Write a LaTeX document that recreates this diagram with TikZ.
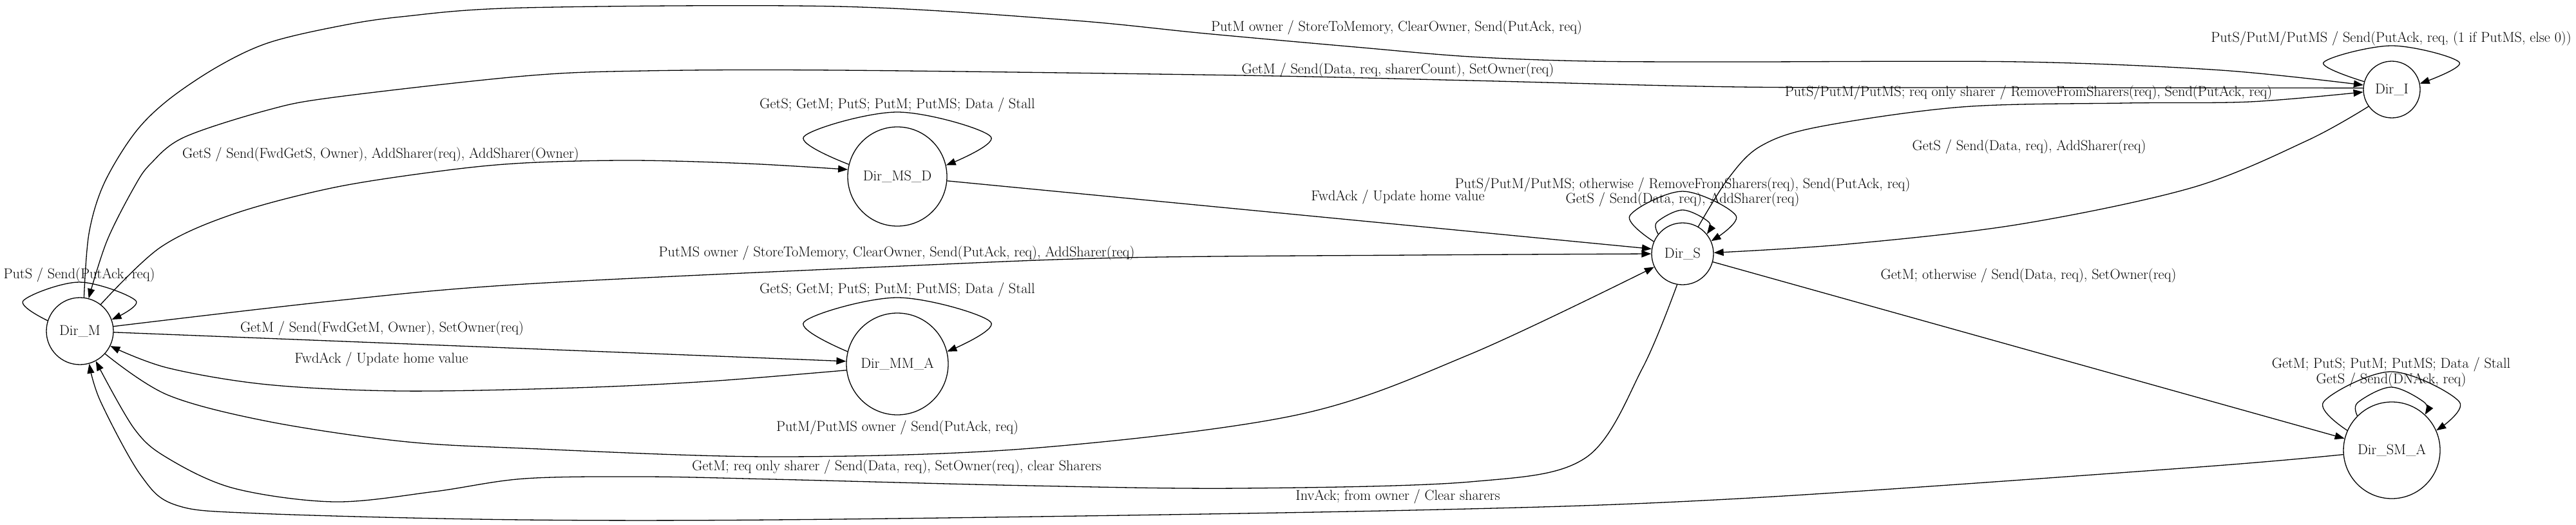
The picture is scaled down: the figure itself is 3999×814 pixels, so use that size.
\documentclass[tikz,border=0pt]{standalone}
\usetikzlibrary{arrows.meta}
\begin{document}
\begin{tikzpicture}[x=1pt,y=-1pt,
  st/.style={circle,draw,line width=1.3pt,inner sep=0pt,font=\fontsize{22.3}{26}\selectfont},
  lbl/.style={inner sep=0pt,font=\fontsize{22.3}{26}\selectfont},
  conn/.style={line width=1.3pt,-{Triangle[length=15pt,width=11pt]}},
  sm/.style={smooth,tension=0.55}]
\useasboundingbox (0,0) rectangle (3999,814);
% states
\node[st,minimum size=104pt] (M) at (124,514) {Dir\_M};
\node[st,minimum size=154pt] (MSD) at (1393,274) {Dir\_MS\_D};
\node[st,minimum size=158pt] (MMA) at (1393,565) {Dir\_MM\_A};
\node[st,minimum size=96pt] (S) at (2612,394) {Dir\_S};
\node[st,minimum size=88pt] (I) at (3713,139) {Dir\_I};
\node[st,minimum size=150pt] (SMA) at (3713,699) {Dir\_SM\_A};
% self loops
\draw[conn] plot[sm] coordinates {(M.162) (36,467) (123,438) (211,467) (M.20)};
\node[lbl] (lM) at (123,427) {PutS / Send(PutAck, req)};
\draw[conn] plot[sm] coordinates {(MSD.166) (1248,212) (1393,174) (1538,212) (MSD.13)};
\node[lbl] (lMSD) at (1393,163) {GetS; GetM; PutS; PutM; PutMS; Data / Stall};
\draw[conn] plot[sm] coordinates {(MMA.166) (1248,500) (1393,462) (1538,500) (MMA.14)};
\node[lbl] (lMMA) at (1393,450) {GetS; GetM; PutS; PutM; PutMS; Data / Stall};
\draw[conn] plot[sm] coordinates {(S.157) (2530,335) (2612,297) (2695,335) (S.24)};
\node[lbl] (lS1) at (2612,287) {PutS/PutM/PutMS; otherwise / RemoveFromSharers(req), Send(PutAck, req)};
\draw[conn] plot[sm] coordinates {(S.141) (2572,345) (2612,326) (2653,345) (S.39)};
\node[lbl] (lS2) at (2612,310) {GetS / Send(Data, req), AddSharer(req)};
\draw[conn] plot[sm] coordinates {(I.164) (3607,97) (3713,71) (3818,97) (I.12)};
\node[lbl] (lI) at (3712,60) {PutS/PutM/PutMS / Send(PutAck, req, (1 if PutMS, else 0))};
\draw[conn] plot[sm] coordinates {(SMA.156) (3607,624) (3712,577) (3818,624) (SMA.24)};
\node[lbl] (lSMA1) at (3712,566) {GetM; PutS; PutM; PutMS; Data / Stall};
\draw[conn] plot[sm] coordinates {(SMA.135) (3660,625) (3712,601) (3764,625) (SMA.47)};
\node[lbl] (lSMA2) at (3712,590) {GetS / Send(DNAck, req)};
% Dir_M -> Dir_I
\draw[conn] plot[sm] coordinates {(M.83) (138,363) (161,286) (208,208) (260,156) (337,104) (415,67) (519,42) (623,26) (814,12) (1300,10) (1657,31) (1871,52) (2104,73) (2282,88) (2468,95) (2700,96) (3136,96) (3448,109) (I.171)};
\node[lbl] (e1) at (2168,43) {PutM owner / StoreToMemory, ClearOwner, Send(PutAck, req)};
% Dir_I -> Dir_M
\draw[conn] plot[sm] coordinates {(I.177) (3136,136) (2700,135) (2282,125) (1925,117) (1300,109) (1000,110) (814,118) (519,151) (415,171) (286,213) (234,254) (208,291) (166,374) (M.75)};
\node[lbl] (e2) at (2170,109) {GetM / Send(Data, req, sharerCount), SetOwner(req)};
% Dir_M -> Dir_MS_D
\draw[conn] plot[sm] coordinates {(M.52) (249,384) (363,332) (519,291) (688,265) (814,253) (982,249) (1161,254) (MSD.172)};
\node[lbl] (e3) at (591,240) {GetS / Send(FwdGetS, Owner), AddSharer(req), AddSharer(Owner)};
% Dir_MS_D -> Dir_S
\draw[conn] (MSD.-5) -- (S.171);
\node[lbl] (e4) at (2170,306) {FwdAck / Update home value};
% Dir_M -> Dir_S (PutMS owner)
\draw[conn] plot[sm] coordinates {(M.8) (519,467) (814,441) (1400,413) (1746,400) (2193,396) (S.180)};
\node[lbl] (e5) at (1392,393) {PutMS owner / StoreToMemory, ClearOwner, Send(PutAck, req), AddSharer(req)};
% Dir_M -> Dir_MM_A
\draw[conn] (M.-2) -- (MMA.177);
\node[lbl] (e6) at (593,510) {GetM / Send(FwdGetM, Owner), SetOwner(req)};
% Dir_MM_A -> Dir_M
\draw[conn] plot[sm] coordinates {(MMA.187) (1100,592) (893,602) (623,607) (415,597) (260,571) (M.-26)};
\node[lbl] (e7) at (592,558) {FwdAck / Update home value};
% Dir_M -> Dir_S (PutM/PutMS owner)
\draw[conn] plot[sm] coordinates {(M.-42) (260,613) (415,654) (623,685) (814,696) (1200,709) (1600,696) (2014,644) (2282,550) (S.205)};
\node[lbl] (e8) at (1393,664) {PutM/PutMS owner / Send(PutAck, req)};
% Dir_S -> Dir_M (GetM req only sharer)
\draw[conn] plot[sm] coordinates {(S.260) (2550,571) (2461,711) (2282,748) (1925,758) (1600,754) (1200,744) (1000,740) (814,743) (675,763) (519,779) (363,758) (260,711) (208,665) (M.-62)};
\node[lbl] (e9) at (1392,725) {GetM; req only sharer / Send(Data, req), SetOwner(req), clear Sharers};
% Dir_SM_A -> Dir_M
\draw[conn] plot[sm] coordinates {(SMA.185) (3400,726) (2700,774) (2193,792) (1300,806) (814,807) (400,797) (273,784) (218,737) (156,623) (M.-74)};
\node[lbl] (e10) at (2170,771) {InvAck; from owner / Clear sharers};
% Dir_I -> Dir_S
\draw[conn] plot[sm] coordinates {(I.216) (3582,218) (3404,291) (3136,348) (2868,379) (S.2)};
\node[lbl] (e11) at (3150,228) {GetS / Send(Data, req), AddSharer(req)};
% Dir_S -> Dir_I
\draw[conn] plot[sm] coordinates {(S.60) (2683,277) (2733,227) (2823,197) (3046,166) (3300,160) (3493,158) (I.185)};
\node[lbl] (e12) at (3149,144) {PutS/PutM/PutMS; req only sharer / RemoveFromSharers(req), Send(PutAck, req)};
% Dir_S -> Dir_SM_A
\draw[conn] (S.-15) -- (SMA.166);
\node[lbl] (e13) at (3149,428) {GetM; otherwise / Send(Data, req), SetOwner(req)};
\end{tikzpicture}
\end{document}
